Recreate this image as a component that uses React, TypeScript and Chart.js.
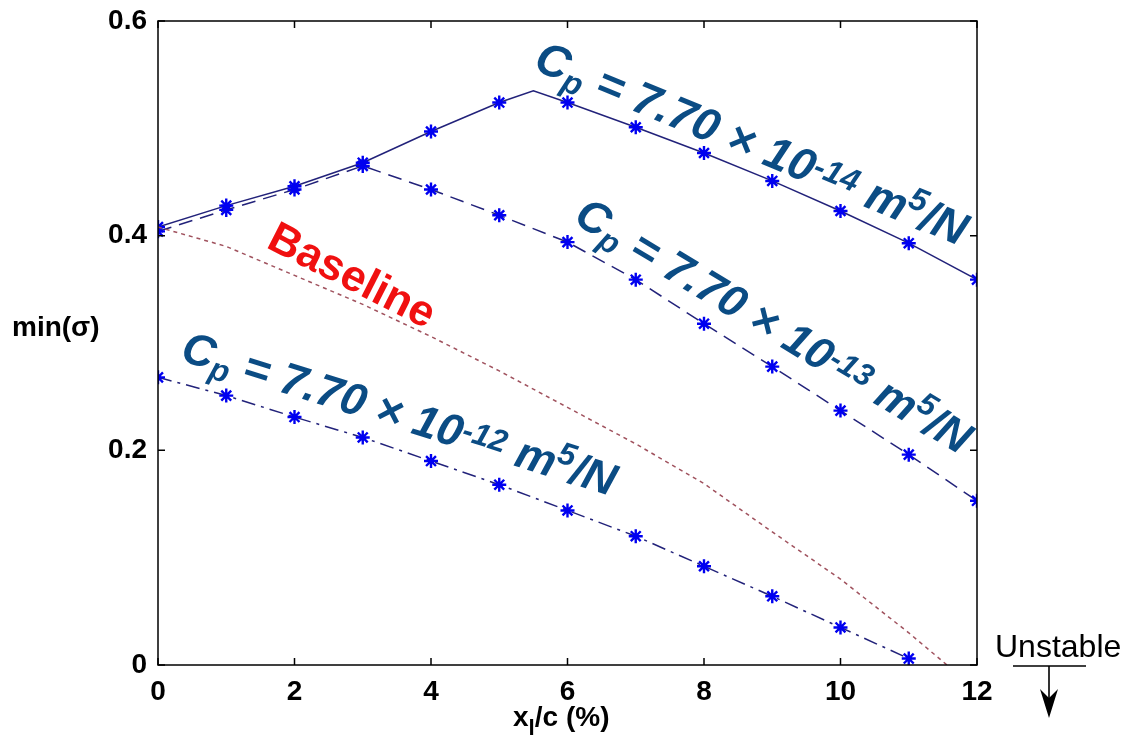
import React, { useEffect, useRef } from "react";
import { Chart, registerables } from "chart.js";

Chart.register(...registerables);

// x_l/c (%) positions and min(sigma) values for each curve
const cp14X = [0, 1, 2, 3, 4, 5, 5.5, 6, 7, 8, 9, 10, 11, 12];
const cp14Y = [0.408, 0.428, 0.446, 0.468, 0.497, 0.524, 0.535, 0.524, 0.501, 0.477, 0.451, 0.423, 0.393, 0.359];

const cp13X = [0, 1, 2, 3, 4, 5, 6, 7, 8, 9, 10, 11, 12];
const cp13Y = [0.404, 0.424, 0.443, 0.465, 0.443, 0.419, 0.394, 0.359, 0.318, 0.278, 0.237, 0.196, 0.153];

const cp12X = [0, 1, 2, 3, 4, 5, 6, 7, 8, 9, 10, 11];
const cp12Y = [0.268, 0.251, 0.231, 0.212, 0.19, 0.168, 0.144, 0.12, 0.092, 0.064, 0.035, 0.006];

const baselineX = [0, 1, 2, 3, 4, 5, 6, 7, 8, 9, 10, 11, 11.56];
const baselineY = [0.408, 0.39, 0.363, 0.336, 0.306, 0.274, 0.24, 0.206, 0.169, 0.124, 0.08, 0.03, 0];

const xTicks = [0, 2, 4, 6, 8, 10, 12];
const yTicks = [0, 0.2, 0.4, 0.6];

const FONT = "'Liberation Sans', Arial, sans-serif";
const LINE = "#22227a";
const STAR = "#0000f0";
const LABEL_BLUE = "#0b4c84";

const toPoints = (xs: number[], ys: number[]) => xs.map((x, i) => ({ x, y: ys[i] }));

type Seg = { t: string; s?: number; dy?: number };

function cpLabel(exp: string): Seg[] {
  return [
    { t: "C" },
    { t: "p", s: 0.7, dy: 0.18 },
    { t: " = 7.70 × 10" },
    { t: exp, s: 0.7, dy: -0.2 },
    { t: " m" },
    { t: "5", s: 0.7, dy: -0.36 },
    { t: "/N" },
  ];
}

function drawRich(
  ctx: CanvasRenderingContext2D,
  segs: Seg[],
  x: number,
  y: number,
  angleDeg: number,
  size: number,
  style: string,
  color: string
) {
  ctx.save();
  ctx.translate(x, y);
  ctx.rotate((angleDeg * Math.PI) / 180);
  ctx.fillStyle = color;
  ctx.textBaseline = "alphabetic";
  ctx.textAlign = "left";
  let cx = 0;
  for (const seg of segs) {
    const fs = size * (seg.s ?? 1);
    ctx.font = `${style} ${fs}px ${FONT}`;
    ctx.fillText(seg.t, cx, (seg.dy ?? 0) * size);
    cx += ctx.measureText(seg.t).width;
  }
  ctx.restore();
}

const framePlugin = {
  id: "frameAndNotes",
  afterDatasetsDraw(chart: any) {
    const { ctx, chartArea: a, scales } = chart;
    const xs = scales.x;
    const ys = scales.y;
    ctx.save();
    ctx.strokeStyle = "#000";
    ctx.lineWidth = 1.5;
    ctx.strokeRect(a.left, a.top, a.right - a.left, a.bottom - a.top);
    ctx.beginPath();
    const tl = 7;
    for (const v of xTicks) {
      const px = xs.getPixelForValue(v);
      ctx.moveTo(px, a.bottom);
      ctx.lineTo(px, a.bottom - tl);
      ctx.moveTo(px, a.top);
      ctx.lineTo(px, a.top + tl);
    }
    for (const v of yTicks) {
      const py = ys.getPixelForValue(v);
      ctx.moveTo(a.left, py);
      ctx.lineTo(a.left + tl, py);
      ctx.moveTo(a.right, py);
      ctx.lineTo(a.right - tl, py);
    }
    ctx.stroke();

    // curve labels
    drawRich(ctx, cpLabel("-14"), 532, 69, 22.5, 46, "italic bold", LABEL_BLUE);
    drawRich(ctx, cpLabel("-13"), 572, 222, 31, 45, "italic bold", LABEL_BLUE);
    drawRich(ctx, cpLabel("-12"), 179, 360, 17.5, 45, "italic bold", LABEL_BLUE);
    drawRich(ctx, [{ t: "Baseline" }], 265, 247, 27, 44, "bold", "#f01010");

    // axis titles
    ctx.fillStyle = "#000";
    ctx.textBaseline = "alphabetic";
    ctx.textAlign = "left";
    ctx.font = `bold 28px ${FONT}`;
    ctx.fillText("min(σ)", 12, 336);

    drawRich(
      ctx,
      [{ t: "x" }, { t: "l", s: 0.8, dy: 0.33 }, { t: "/c (%)" }],
      513,
      726,
      0,
      28,
      "bold",
      "#000"
    );

    // unstable region marker
    ctx.font = `32px ${FONT}`;
    ctx.fillStyle = "#000";
    ctx.fillText("Unstable", 995, 657);
    ctx.lineWidth = 1.6;
    ctx.beginPath();
    ctx.moveTo(1013, 666);
    ctx.lineTo(1086, 666);
    ctx.moveTo(1049, 666);
    ctx.lineTo(1049, 712);
    ctx.stroke();
    ctx.beginPath();
    ctx.moveTo(1040, 689);
    ctx.lineTo(1049, 718);
    ctx.lineTo(1058, 689);
    ctx.lineTo(1049, 698);
    ctx.closePath();
    ctx.fill();
    ctx.restore();
  },
};

export default function App() {
  const ref = useRef<HTMLCanvasElement | null>(null);

  useEffect(() => {
    if (!ref.current) return;
    const starRadius = (ctx: any) => (Number.isInteger(ctx.raw?.x) ? 7 : 0);
    const common = {
      showLine: true,
      fill: false,
      tension: 0,
      borderWidth: 1.5,
      pointStyle: "star",
      pointBorderColor: STAR,
      pointBackgroundColor: STAR,
      pointBorderWidth: 2.4,
      pointRadius: starRadius,
      pointHoverRadius: starRadius,
    };
    const chart = new Chart(ref.current, {
      type: "scatter",
      data: {
        datasets: [
          {
            ...common,
            label: "Baseline",
            data: toPoints(baselineX, baselineY),
            borderColor: "#a0525e",
            borderDash: [4, 4],
            pointRadius: 0,
            pointHoverRadius: 0,
          },
          {
            ...common,
            label: "Cp = 7.70e-12",
            data: toPoints(cp12X, cp12Y),
            borderColor: LINE,
            borderDash: [14, 6, 3, 6],
          },
          {
            ...common,
            label: "Cp = 7.70e-13",
            data: toPoints(cp13X, cp13Y),
            borderColor: LINE,
            borderDash: [14, 8],
          },
          {
            ...common,
            label: "Cp = 7.70e-14",
            data: toPoints(cp14X, cp14Y),
            borderColor: LINE,
          },
        ],
      },
      options: {
        animation: false,
        responsive: true,
        maintainAspectRatio: false,
        layout: { padding: { top: 21, right: 158, left: 0, bottom: 0 } },
        plugins: { legend: { display: false }, tooltip: { enabled: false } },
        scales: {
          x: {
            type: "linear",
            min: 0,
            max: 12,
            afterFit: (s: any) => {
              s.height = 87;
            },
            afterBuildTicks: (s: any) => {
              s.ticks = xTicks.map((v) => ({ value: v }));
            },
            grid: { display: false },
            border: { display: false },
            ticks: {
              padding: 2,
              color: "#000",
              font: { family: FONT, size: 28, weight: "bold" },
              callback: (v: any) => String(v),
            },
          },
          y: {
            type: "linear",
            min: 0,
            max: 0.6,
            afterFit: (s: any) => {
              s.width = 158;
            },
            afterBuildTicks: (s: any) => {
              s.ticks = yTicks.map((v) => ({ value: v }));
            },
            grid: { display: false },
            border: { display: false },
            ticks: {
              padding: 3,
              color: "#000",
              font: { family: FONT, size: 28, weight: "bold" },
              callback: (v: any) => (Number(v) === 0 ? "0" : Number(v).toFixed(1)),
            },
          },
        },
      },
      plugins: [framePlugin],
    } as any);
    return () => chart.destroy();
  }, []);

  return (
    <div style={{ position: "fixed", left: 0, top: 0, width: 1135, height: 752, background: "#fff" }}>
      <canvas ref={ref} />
    </div>
  );
}
